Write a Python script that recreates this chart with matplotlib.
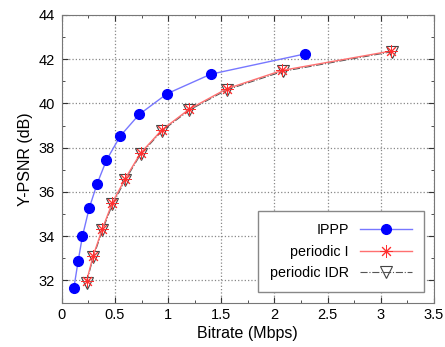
import matplotlib.pyplot as plt
from matplotlib.ticker import MultipleLocator, FormatStrFormatter

plt.rcParams['font.family'] = ['Liberation Sans', 'DejaVu Sans']

# rate-distortion points
ippp_rate = [0.113, 0.153, 0.194, 0.257, 0.33, 0.42, 0.55, 0.727, 0.99, 1.40, 2.29]
ippp_psnr = [31.66, 32.87, 34.01, 35.26, 36.35, 37.44, 38.53, 39.50, 40.44, 41.32, 42.24]

pi_rate = [0.232, 0.295, 0.38, 0.473, 0.596, 0.74, 0.94, 1.198, 1.55, 2.07, 3.10]
pi_psnr = [31.96, 33.12, 34.32, 35.49, 36.60, 37.75, 38.80, 39.74, 40.66, 41.49, 42.37]

idr_rate = [0.232, 0.296, 0.382, 0.476, 0.598, 0.742, 0.942, 1.20, 1.555, 2.08, 3.11]
idr_psnr = [31.90, 33.06, 34.27, 35.44, 36.55, 37.71, 38.76, 39.70, 40.62, 41.45, 42.34]

fig, ax = plt.subplots(figsize=(4.45, 3.47), dpi=100)
fig.subplots_adjust(left=0.139, right=0.975, top=0.957, bottom=0.128)

ax.plot(ippp_rate, ippp_psnr, color='#7777ff', lw=1, marker='o', ms=7,
        mfc='blue', mec='blue', label='IPPP', zorder=3)
ax.plot(pi_rate, pi_psnr, color='#ff7070', lw=1, marker=(8, 2, 0), ms=9,
        mec='#ff3030', mew=0.7, label='periodic I', zorder=4)
ax.plot(idr_rate, idr_psnr, color='#555555', lw=0.8, ls='-.', marker='v', ms=8,
        mfc='none', mec='#444444', mew=0.8, label='periodic IDR', zorder=2)

ax.set_xlim(0, 3.5)
ax.set_ylim(31, 44)
ax.xaxis.set_major_locator(MultipleLocator(0.5))
ax.xaxis.set_minor_locator(MultipleLocator(0.25))
ax.xaxis.set_major_formatter(FormatStrFormatter('%g'))
ax.yaxis.set_major_locator(MultipleLocator(2))
ax.yaxis.set_minor_locator(MultipleLocator(1))
ax.tick_params(which='both', direction='in', top=True, right=True,
               colors='#333333', labelcolor='black', labelsize=10.5)
ax.tick_params(which='major', length=4)
ax.tick_params(which='minor', length=2)
ax.tick_params(axis='x', pad=4)
ax.tick_params(axis='y', pad=5)
ax.grid(True, which='major', ls=':', color='#888888', lw=0.9)
for s in ax.spines.values():
    s.set_color('#777777')

ax.set_xlabel('Bitrate (Mbps)', fontsize=11.5, labelpad=3)
ax.set_ylabel('Y-PSNR (dB)', fontsize=11.5, labelpad=4)

leg = ax.legend(loc='lower right', markerfirst=False, fontsize=10.3,
                fancybox=False, framealpha=1, edgecolor='#888888',
                borderpad=0.85, handlelength=3.6, handletextpad=0.8,
                labelspacing=0.5, borderaxespad=0,
                bbox_to_anchor=(0.973, 0.037))

plt.savefig('out.png')
